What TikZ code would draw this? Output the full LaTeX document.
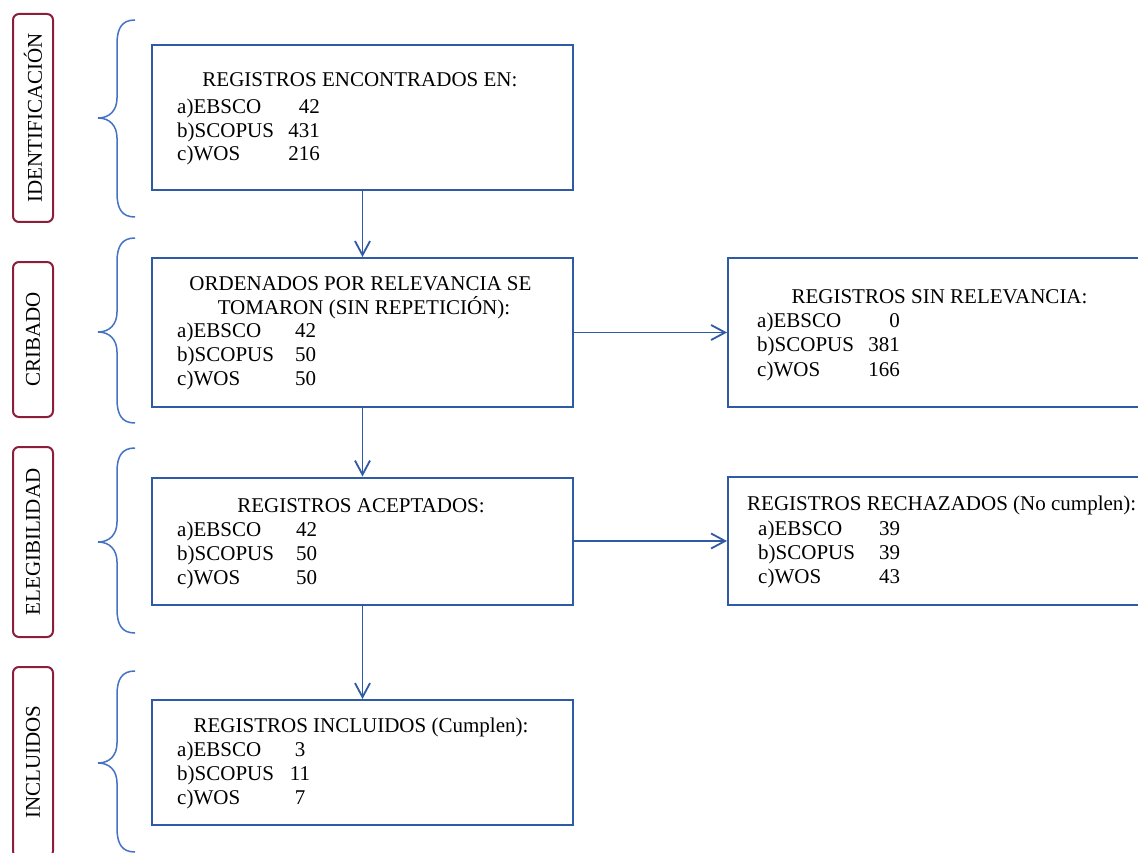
\documentclass[tikz,border=0pt]{standalone}
\usepackage{fontspec}
\setmainfont{Liberation Serif}
\usetikzlibrary{arrows.meta}
\definecolor{boxblue}{RGB}{47,90,165}
\definecolor{braceblue}{RGB}{68,114,196}
\definecolor{labred}{RGB}{140,30,60}
\newcommand\mybrace[3]{%
 \draw[brace] (135,#1) .. controls (122,#1) and (117,#1+8) .. (117,#1+24) -- (117,#2-20)
   .. controls (117,#2-8) and (110,#2) .. (98,#2)
   .. controls (110,#2) and (117,#2+8) .. (117,#2+20) -- (117,#3-24)
   .. controls (117,#3-8) and (122,#3) .. (135,#3);}
\begin{document}
\begin{tikzpicture}[x=1pt,y=-1pt,
 box/.style={draw=boxblue,line width=2pt,fill=white,inner sep=0},
 lab/.style={draw=labred,line width=2pt,rounded corners=6pt,rotate=90,inner sep=0,
   font=\fontsize{21}{24}\selectfont},
 brace/.style={draw=braceblue,line width=1.5pt},
 txt/.style={font=\fontsize{21}{24}\selectfont,inner sep=0,anchor=base west},
 ttl/.style={txt,anchor=base},
 numr/.style={txt,anchor=base east},
 numc/.style={txt,anchor=base},
 conn/.style={draw=boxblue,line width=1.8pt,-{Straight Barb[length=14pt,width=15pt]}}
]
\useasboundingbox (0,0) rectangle (1138,853);
\fill[white] (0,0) rectangle (1138,853);
\clip (0,0) rectangle (1138,853);

% stage labels
\node[lab,minimum width=208pt,minimum height=40pt] (l1) at (33,118) {IDENTIFICACIÓN};
\node[lab,minimum width=155pt,minimum height=40pt] (l2) at (33,339.5) {CRIBADO};
\node[lab,minimum width=190pt,minimum height=40pt] (l3) at (33,542) {ELEGIBILIDAD};
\node[lab,minimum width=190pt,minimum height=40pt] (l4) at (33,762) {INCLUIDOS};

% braces
\mybrace{20}{118}{217}
\mybrace{238}{332}{423}
\mybrace{448}{542}{633}
\mybrace{671}{763}{852}

% boxes
\node[box,minimum width=421pt,minimum height=145pt] (b1) at (362.5,117.5) {};
\node[box,minimum width=421pt,minimum height=149pt] (b2) at (362.5,332.5) {};
\node[box,minimum width=417pt,minimum height=148pt] (b3) at (936.5,332.5) {};
\node[box,minimum width=421pt,minimum height=127pt] (b4) at (362.5,541) {};
\node[box,minimum width=417pt,minimum height=128pt] (b5) at (936.5,541) {};
\node[box,minimum width=421pt,minimum height=125pt] (b6) at (362.5,762.5) {};

% connectors
\draw[conn] (b1) -- (b2);
\draw[conn] (b2) -- (b4);
\draw[conn] (b4) -- (b6);
\draw[conn] (b2) -- (b3);
\draw[conn] (b4) -- (b5);

% box 1
\node[ttl] (b1t) at (360,87) {REGISTROS ENCONTRADOS EN:};
\node[txt] (b1a) at (177,114) {a)EBSCO};
\node[txt] (b1b) at (177,137.5) {b)SCOPUS};
\node[txt] (b1c) at (177,161) {c)WOS};
\node[numr] (b1an) at (320,114) {42};
\node[numr] (b1bn) at (320,137.5) {431};
\node[numr] (b1cn) at (320,161) {216};

% box 2
\node[ttl] (b2t) at (360.5,290) {ORDENADOS POR RELEVANCIA SE};
\node[ttl] (b2u) at (364,314.5) {TOMARON (SIN REPETICIÓN):};
\node[txt] (b2a) at (177,337) {a)EBSCO};
\node[txt] (b2b) at (177,361) {b)SCOPUS};
\node[txt] (b2c) at (177,385) {c)WOS};
\node[txt] (b2an) at (295,337) {42};
\node[txt] (b2bn) at (295,361) {50};
\node[txt] (b2cn) at (295,385) {50};

% box 3
\node[ttl] (b3t) at (939.5,303) {REGISTROS SIN RELEVANCIA:};
\node[txt] (b3a) at (757,327) {a)EBSCO};
\node[txt] (b3b) at (757,351.5) {b)SCOPUS};
\node[txt] (b3c) at (757,376) {c)WOS};
\node[numr] (b3an) at (900,327) {0};
\node[numr] (b3bn) at (900,351.5) {381};
\node[numr] (b3cn) at (900,376) {166};

% box 4
\node[ttl] (b4t) at (361,512) {REGISTROS ACEPTADOS:};
\node[txt] (b4a) at (177,536) {a)EBSCO};
\node[txt] (b4b) at (177,560) {b)SCOPUS};
\node[txt] (b4c) at (177,584) {c)WOS};
\node[txt] (b4an) at (296,536) {42};
\node[txt] (b4bn) at (296,560) {50};
\node[txt] (b4cn) at (296,584) {50};

% box 5
\node[txt] (b5t) at (747,510) {REGISTROS RECHAZADOS (No cumplen):};
\node[txt] (b5a) at (758,535) {a)EBSCO};
\node[txt] (b5b) at (758,559) {b)SCOPUS};
\node[txt] (b5c) at (758,583) {c)WOS};
\node[txt] (b5an) at (879,535) {39};
\node[txt] (b5bn) at (879,559) {39};
\node[txt] (b5cn) at (879,583) {43};

% box 6
\node[ttl] (b6t) at (361,732) {REGISTROS INCLUIDOS (Cumplen):};
\node[txt] (b6a) at (177,756) {a)EBSCO};
\node[txt] (b6b) at (177,780) {b)SCOPUS};
\node[txt] (b6c) at (177,804) {c)WOS};
\node[numc] (b6an) at (300,756) {3};
\node[numc] (b6bn) at (300,780) {11};
\node[numc] (b6cn) at (300,804) {7};
\end{tikzpicture}
\end{document}
